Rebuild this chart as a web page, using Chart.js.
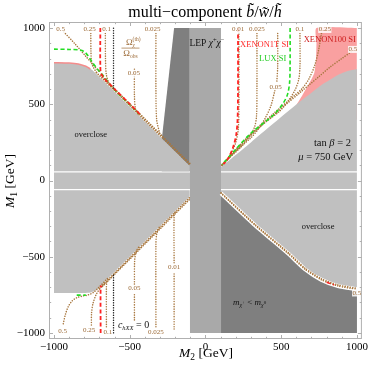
<!DOCTYPE html>
<html><head><meta charset="utf-8">
<script src="https://cdn.jsdelivr.net/npm/chart.js@4.4.1/dist/chart.umd.min.js"></script>
<style>html,body{margin:0;padding:0;background:#fff}#wrap{width:370px;height:370px}</style>
</head><body><div id="wrap"><canvas id="c" width="370" height="370"></canvas></div>
<script>
// ---- axis ticks ----
const xTicks = [-1000, -500, 0, 500, 1000];
const yTicks = [-1000, -500, 0, 500, 1000];

// ---- shaded regions (M2, M1) ----
const overcloseUpperLeft = [[-1000,772],[-900,770],[-840,764],[-790,748],[-744,722],[-103,97]];
const overcloseUpperRight = [[103,89],[300,250],[450,375],[613,508],[700,575],[766,626],[875,692],[940,718],[1000,731]];
const overcloseLowerLeft = [[-1000,-738],[-800,-738],[-760,-735],[-720,-718],[-685,-685],[-103,-103]];
const overcloseCenterBand = [[-1000,52.5],[1000,52.5]];
const overcloseLowerRight = [[103,-64.5],[1000,-64.5]];
const chargedLspLowerRight = [[103,-92],[329,-303],[548,-489],[657,-590],[766,-660],[875,-700],[1000,-722]];
const lepUpperLeft = [[-290,255],[-207,1000],[-103,1000]];
const lepBand = [[-103,1000],[103,1000]];
const xenon100Region = [[600,495],[640,560],[679,626],[718,703],[730,800],[733,900],[733,1000],[1000,1000]];
const xenon100EdgeUL = [[-1000,773],[-900,771],[-840,765],[-790,749],[-760,732]];

// ---- relic-density contours Omega_th/Omega_obs ----
const omega05UL = [[-935,975],[-860,895],[-790,815],[-740,758],[-700,712]];
const omega025UL = [[-757,965],[-756,850],[-752,775],[-740,742],[-718,708]];
const omega01UL = [[-661,965],[-660,800],[-655,700],[-640,645],[-620,612]];
const omega005UL = [[-469,730],[-469,560],[-462,470],[-440,425]];
const omega0025UL = [[-327,965],[-327,600],[-322,400],[-300,300]];
const bundleUL1 = [[-720,708],[-103,103]];
const bundleUL2 = [[-690,690],[-103,112]];

const omega001UR = [[221,975],[221,500],[217,340],[200,250],[165,170],[130,120],[108,100]];
const omega0025UR = [[340,965],[340,600],[337,420],[322,345],[290,290],[240,225],[170,160],[112,106]];
const omega005URtop = [[477,965],[477,750],[471,645]];
const omega005URlow = [[458,590],[432,490],[395,410],[351,340],[300,280],[200,195],[112,104]];
const omega01UR = [[624,965],[624,750],[616,665],[592,595],[545,520],[490,455],[380,370],[250,255],[108,102]];
const omega025UR = [[766,965],[747,855],[722,758],[684,668],[640,605],[590,560],[450,440],[300,305],[108,100]];
const omega05UR = [[963,845],[900,800],[820,742],[745,678],[690,632],[640,590],[450,430],[300,295],[108,98]];

const omega05LL = [[-939,-940],[-925,-880],[-906,-828],[-880,-790],[-851,-770],[-810,-758],[-775,-751],[-740,-735],[-710,-707],[-640,-636]];
const omega025LL = [[-753,-948],[-752,-870],[-742,-805],[-720,-745],[-687,-696],[-660,-662]];
const omega01LL = [[-654,-960],[-654,-700],[-650,-662],[-640,-645]];
const omega005LLlow = [[-469,-915],[-469,-735]];
const omega005LLup = [[-469,-680],[-467,-520],[-455,-460],[-436,-430]];
const omega0025LL = [[-327,-960],[-327,-420],[-322,-350],[-305,-305]];
const omega001LLlow = [[-207,-975],[-207,-600]];
const omega001LLup = [[-207,-540],[-207,-230],[-200,-205]];
const bundleLL1 = [[-700,-708],[-103,-110]];
const bundleLL2 = [[-680,-695],[-103,-122]];

const bundleLR1 = [[103,-84],[329,-295],[548,-481],[657,-582],[766,-652],[875,-692],[1000,-714]];
const bundleLR2 = [[103,-80],[329,-289],[548,-474],[657,-575],[766,-645],[875,-685],[990,-706]];

// ---- direct-detection limits ----
const xenon1tUL = [[-694,1000],[-694,750],[-686,695],[-600,600],[-500,502],[-430,432]];
const xenon1tUR = [[215,1000],[215,600],[212,400],[203,300],[183,220],[150,145],[120,108]];
const xenon1tLL = [[-692,-1000],[-692,-700],[-686,-690]];
const xenon1tLR = [[800,-668],[850,-685]];
const luxUL = [[-1000,862],[-900,860],[-830,856],[-800,845],[-775,818],[-750,780],[-720,740],[-690,705],[-600,596],[-500,498],[-436,436]];
const luxUR = [[559,1000],[559,800],[556,650],[542,565],[512,505],[465,445],[420,405],[300,310],[200,205],[110,105]];
const luxLL = [[-850,-752],[-790,-752]];
const chxxZeroUL = [[-607,1000],[-607,598]];
const chxxZeroLL = [[-607,-1000],[-607,-612]];

// ---- contour labels [text, M2, M1] ----
const contourLabels = [
  ['0.5',-956,991],['0.25',-764,991],['0.1',-652,991],['0.025',-349,991],['0.05',-472,703],
  ['0.01',215,991],['0.025',340,991],['0.05',464,615],['0.1',624,991],['0.25',788,991],['0.5',974,860],
  ['0.5',-943,-991],['0.25',-768,-980],['0.1',-645,-998],['0.05',-469,-707],['0.025',-327,-998],['0.01',-207,-570],
  ['0.5',1000,-738]
];

const BROWN = '#a8773f';
const LABEL_BROWN = '#9c6a36';
const GRAY = '#c0c0c0';
const LEPGRAY = '#a9a9a9';
const DARK = '#7f7f7f';
const RED = '#ff2222';
const GREEN = '#22dd22';
const SERIF = '"Liberation Serif","Times New Roman",serif';

function pts(a){ return a.map(p => ({x:p[0], y:p[1]})); }
function region(points, color, base, order, tension){
  return {data: pts(points), backgroundColor: color, borderColor: 'rgba(0,0,0,0)', borderWidth: 0,
    fill: {value: base}, pointRadius: 0, order: order, tension: tension || 0};
}
function curve(points, color, width, dash, order, tension){
  return {data: pts(points), borderColor: color, borderWidth: width, borderDash: dash || [],
    borderCapStyle: (dash && dash[0] < 1) ? 'round' : 'butt', fill: false, pointRadius: 0,
    order: order, tension: tension === undefined ? 0.3 : tension};
}
const DOT = [0.1, 2.4];
const DASH = [4, 2.5];

const datasets = [
  region(xenon100Region, '#f9a0a0', 400, 100, 0.2),
  region(lepUpperLeft, DARK, 61.5, 95, 0),
  region(overcloseUpperLeft, GRAY, 61.5, 90, 0.15),
  region(overcloseUpperRight, GRAY, 61.5, 90, 0.2),
  region(overcloseCenterBand, GRAY, -55.5, 90, 0),
  region(overcloseLowerLeft, GRAY, -64.5, 90, 0.15),
  region(overcloseLowerRight, GRAY, -1000, 90, 0),
  region(chargedLspLowerRight, DARK, -1000, 85, 0.2),
  region(lepBand, LEPGRAY, -1000, 80, 0),
  curve(bundleLR1, '#ffffff', 4, [], 76, 0.2),
  curve(xenon100EdgeUL, '#f48c8c', 1.6, [], 75, 0.2),
  // brown contours
  curve(omega05UL, BROWN, 1.5, DOT, 50), curve(omega025UL, BROWN, 1.5, DOT, 50),
  curve(omega01UL, BROWN, 1.5, DOT, 50), curve(omega005UL, BROWN, 1.5, DOT, 50),
  curve(omega0025UL, BROWN, 1.5, DOT, 50), curve(bundleUL1, BROWN, 1.6, DOT, 50, 0),
  curve(bundleUL2, BROWN, 1.6, DOT, 50, 0),
  curve(omega001UR, BROWN, 1.5, DOT, 50), curve(omega0025UR, BROWN, 1.5, DOT, 50),
  curve(omega005URtop, BROWN, 1.5, DOT, 50), curve(omega005URlow, BROWN, 1.5, DOT, 50),
  curve(omega01UR, BROWN, 1.5, DOT, 50), curve(omega025UR, BROWN, 1.5, DOT, 50),
  curve(omega05UR, BROWN, 1.5, DOT, 50),
  curve(omega05LL, BROWN, 1.5, DOT, 50), curve(omega025LL, BROWN, 1.5, DOT, 50),
  curve(omega01LL, BROWN, 1.5, DOT, 50), curve(omega005LLlow, BROWN, 1.5, DOT, 50),
  curve(omega005LLup, BROWN, 1.5, DOT, 50), curve(omega0025LL, BROWN, 1.5, DOT, 50),
  curve(omega001LLlow, BROWN, 1.5, DOT, 50), curve(omega001LLup, BROWN, 1.5, DOT, 50),
  curve(bundleLL1, BROWN, 1.6, DOT, 50, 0), curve(bundleLL2, BROWN, 1.6, DOT, 50, 0),
  curve(bundleLR1, BROWN, 1.5, DOT, 50, 0.2), curve(bundleLR2, BROWN, 1.5, DOT, 50, 0.2),
  // limits
  curve(xenon1tUL, RED, 1.8, DASH, 40), curve(xenon1tUR, RED, 1.8, DASH, 40),
  curve(xenon1tLL, RED, 1.8, DASH, 40), curve(xenon1tLR, RED, 1.5, DASH, 40),
  curve(luxUL, GREEN, 1.6, DASH, 40), curve(luxUR, GREEN, 1.6, DASH, 40),
  curve(luxLL, GREEN, 1.6, DASH, 40),
  curve(chxxZeroUL, '#222222', 1.4, DOT, 40, 0), curve(chxxZeroLL, '#222222', 1.4, DOT, 40, 0)
];

function rich(ctx, segs, x, y, align){
  let w = 0;
  segs.forEach(s => { ctx.font = s.f; s.w = ctx.measureText(s.t).width; if (!s.overlap) w += s.w; });
  let cx = align === 'right' ? x - w : (align === 'left' ? x : x - w/2);
  let last = cx;
  segs.forEach(s => {
    ctx.font = s.f;
    const px = s.overlap ? last : cx;
    ctx.fillText(s.t, px, y + (s.dy || 0));
    if (!s.overlap) { last = cx; cx += s.w; }
  });
}

const textPlugin = {
  id: 'texts',
  afterDatasetsDraw(chart){
    const {ctx, chartArea: a, scales: {x, y}} = chart;
    const X = v => x.getPixelForValue(v), Y = v => y.getPixelForValue(v);
    ctx.save();
    ctx.beginPath(); ctx.rect(a.left, a.top, a.right - a.left, a.bottom - a.top); ctx.clip();
    ctx.textBaseline = 'middle';
    // contour labels
    ctx.font = '7px ' + SERIF;
    contourLabels.forEach(([t, vx, vy]) => {
      const w = ctx.measureText(t).width;
      const px = X(vx), py = Y(vy);
      ctx.fillStyle = 'rgba(255,255,255,0.85)';
      ctx.fillRect(px - w/2 - 0.5, py - 3.5, w + 1, 7);
      ctx.fillStyle = LABEL_BROWN; ctx.textAlign = 'center';
      ctx.fillText(t, px, py);
    });
    ctx.textAlign = 'left';
    // Omega fraction
    const ox = X(-495), oy = Y(872);
    ctx.fillStyle = LABEL_BROWN;
    rich(ctx, [{t:'Ω', f:'9px '+SERIF},{t:'χ', f:'italic 5.5px '+SERIF, dy:2.5},{t:'(th)', f:'5.5px '+SERIF, dy:-3.5, overlap:true}], ox, oy - 5, 'center');
    ctx.strokeStyle = LABEL_BROWN; ctx.lineWidth = 0.7;
    ctx.beginPath(); ctx.moveTo(ox - 9, oy + 0.5); ctx.lineTo(ox + 9, oy + 0.5); ctx.stroke();
    rich(ctx, [{t:'Ω', f:'9px '+SERIF},{t:'obs', f:'5.5px '+SERIF, dy:2.5}], ox, oy + 6, 'center');
    // region labels
    ctx.fillStyle = '#111';
    rich(ctx, [{t:'overclose', f:'8.5px '+SERIF}], X(-757), Y(298), 'center');
    rich(ctx, [{t:'overclose', f:'8.5px '+SERIF}], X(744), Y(-305), 'center');
    rich(ctx, [{t:'m', f:'italic 9px '+SERIF},{t:'χ', f:'italic 6px '+SERIF, dy:2.5},{t:'+', f:'5px '+SERIF, dy:0},{t:' < ', f:'9px '+SERIF},
               {t:'m', f:'italic 9px '+SERIF},{t:'χ', f:'italic 6px '+SERIF, dy:2.5},{t:'0', f:'5px '+SERIF, dy:0}], X(292), Y(-803), 'center');
    rich(ctx, [{t:'LEP ', f:'9.5px '+SERIF},{t:'χ', f:'italic 9.5px '+SERIF},{t:'+', f:'6.5px '+SERIF, dy:-3},
               {t:'χ', f:'italic 9.5px '+SERIF},{t:'−', f:'6.5px '+SERIF, dy:-3}], X(10), Y(900), 'center');
    rich(ctx, [{t:'c', f:'italic 10px '+SERIF},{t:'hXX', f:'italic 6.5px '+SERIF, dy:2.5},{t:' = 0', f:'10px '+SERIF}], X(-475), Y(-952), 'center');
    rich(ctx, [{t:'tan ', f:'10.5px '+SERIF},{t:'β', f:'italic 10.5px '+SERIF},{t:' = 2', f:'10.5px '+SERIF}], X(961), Y(246), 'right');
    rich(ctx, [{t:'μ', f:'italic 10.5px '+SERIF},{t:' = 750 GeV', f:'10.5px '+SERIF}], X(974), Y(154), 'right');
    ctx.fillStyle = '#ff2a2a';
    rich(ctx, [{t:'XENON1T SI', f:'8.5px '+SERIF}], X(390), Y(893), 'center');
    ctx.fillStyle = '#cc1a1a';
    rich(ctx, [{t:'XENON100 SI', f:'8.5px '+SERIF}], X(821), Y(926), 'center');
    ctx.fillStyle = '#22cc22';
    rich(ctx, [{t:'LUX SI', f:'8.5px '+SERIF}], X(444), Y(801), 'center');
    ctx.restore();

    // frame with inward ticks
    ctx.save();
    ctx.strokeStyle = '#b0b0b0'; ctx.lineWidth = 1;
    ctx.strokeRect(a.left + 0.5, a.top + 0.5, a.right - a.left - 1, a.bottom - a.top - 1);
    for (let v = -1000; v <= 1000; v += 100) {
      const L = (v % 500 === 0) ? 4 : 2.2;
      const px = Math.round(X(v)) + 0.5, py = Math.round(Y(v)) + 0.5;
      ctx.beginPath();
      ctx.moveTo(px, a.bottom); ctx.lineTo(px, a.bottom - L);
      ctx.moveTo(px, a.top); ctx.lineTo(px, a.top + L);
      ctx.moveTo(a.left, py); ctx.lineTo(a.left + L, py);
      ctx.moveTo(a.right, py); ctx.lineTo(a.right - L, py);
      ctx.stroke();
    }
    ctx.restore();
  },
  afterDraw(chart){
    const {ctx} = chart;
    ctx.save();
    ctx.fillStyle = '#000'; ctx.textBaseline = 'alphabetic';
    rich(ctx, [{t:'multi−component ', f:'16px '+SERIF},{t:'b̃', f:'italic 16px '+SERIF},{t:'/', f:'16px '+SERIF},
               {t:'w̃', f:'italic 16px '+SERIF},{t:'/', f:'16px '+SERIF},{t:'h̃', f:'italic 16px '+SERIF}], 205, 17, 'center');
    rich(ctx, [{t:'M', f:'italic 13.5px '+SERIF},{t:'2', f:'9.5px '+SERIF, dy:3},{t:' [GeV]', f:'13.5px '+SERIF}], 206, 357, 'center');
    ctx.translate(14, 181); ctx.rotate(-Math.PI/2);
    rich(ctx, [{t:'M', f:'italic 13.5px '+SERIF},{t:'1', f:'9.5px '+SERIF, dy:3},{t:' [GeV]', f:'13.5px '+SERIF}], 0, 0, 'center');
    ctx.restore();
  }
};

const fmt = v => v < 0 ? '−' + (-v) : String(v);

new Chart(document.getElementById('c'), {
  type: 'line',
  data: {datasets},
  options: {
    responsive: false, animation: false, devicePixelRatio: 1,
    layout: {padding: {top: 22, right: 6, left: 0, bottom: 0}},
    plugins: {legend: {display: false}, tooltip: {enabled: false}, title: {display: false}},
    elements: {line: {spanGaps: true}},
    scales: {
      x: {type: 'linear', min: -1033, max: 1033,
        afterBuildTicks: s => { s.ticks = xTicks.map(v => ({value: v})); },
        afterFit: s => { s.height = 31; },
        grid: {display: false, drawTicks: false}, border: {display: false},
        ticks: {callback: fmt, font: {family: SERIF, size: 11}, color: '#000', padding: 2, maxRotation: 0, autoSkip: false}},
      y: {type: 'linear', min: -1040, max: 1040,
        afterBuildTicks: s => { s.ticks = yTicks.map(v => ({value: v})); },
        afterFit: s => { s.width = 49; },
        grid: {display: false, drawTicks: false}, border: {display: false},
        ticks: {callback: fmt, font: {family: SERIF, size: 11}, color: '#000', padding: 4, autoSkip: false}}
    }
  },
  plugins: [textPlugin]
});
</script>
</body></html>
